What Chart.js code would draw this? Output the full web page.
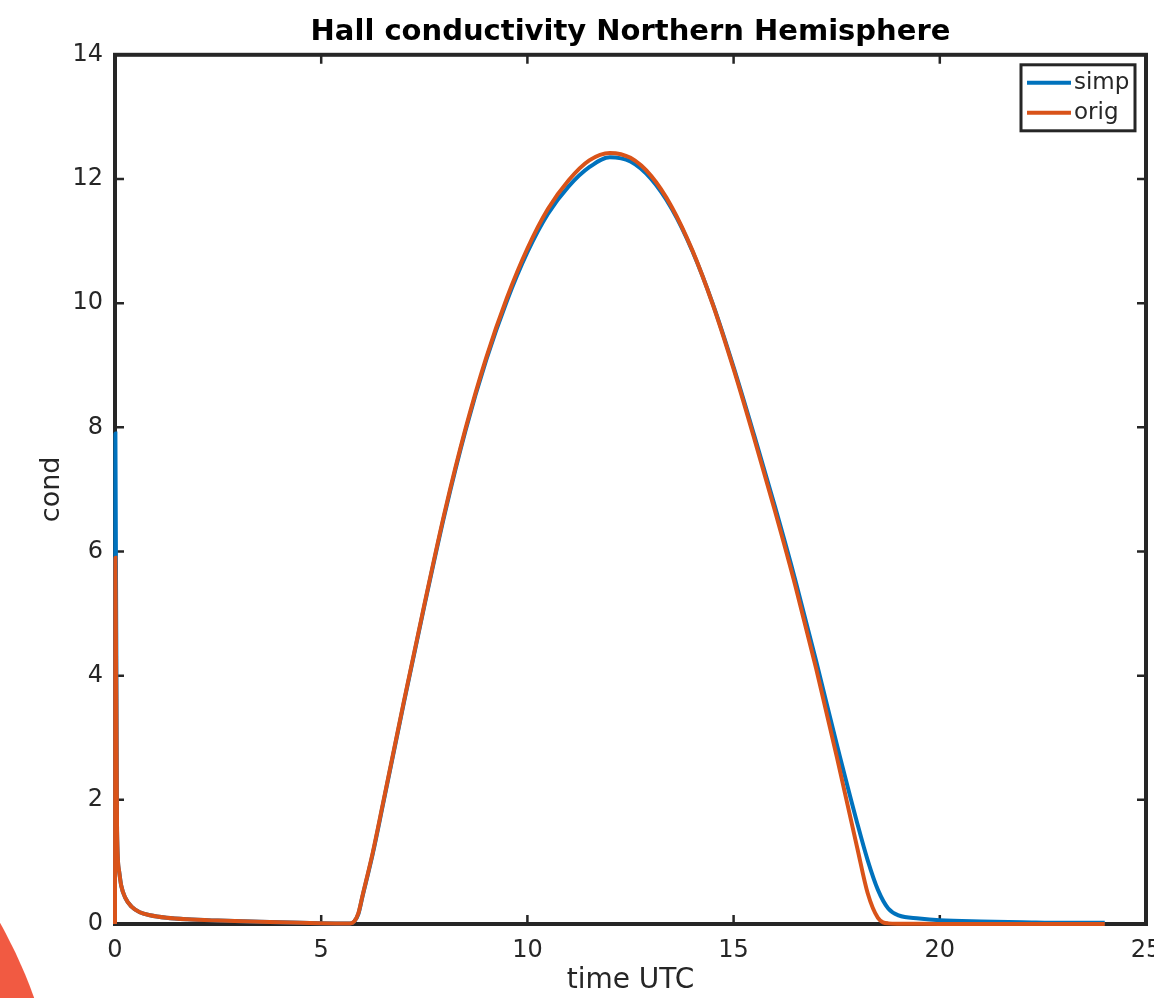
<!DOCTYPE html>
<html>
<head>
<meta charset="utf-8">
<title>Hall conductivity Northern Hemisphere</title>
<script src="https://cdn.jsdelivr.net/npm/chart.js@4.4.0/dist/chart.umd.min.js"></script>
<style>
  html, body { margin: 0; padding: 0; background: #fff; overflow: hidden; }
  #wrap { position: relative; width: 1154px; height: 998px; }
  /* slide decoration in the lower left corner */
  #blob { position: absolute; left: -860px; top: 690px; width: 920px; height: 920px; border-radius: 50%; background: #f15a42; }
  canvas { position: absolute; left: 0; top: 0; }
</style>
</head>
<body>
<div id="wrap">
  <div id="blob"></div>
  <canvas id="line-chart_hall" width="1154" height="998"></canvas>
</div>
<script>
// time UTC (hours)
const hours = [0, 0.01, 0.05, 0.1, 0.15, 0.25, 0.4, 0.6, 0.85, 1.25, 1.75, 2.5, 3.5, 4.5, 5.5, 5.7, 5.8, 5.9,
  6, 6.25, 6.5, 7, 7.5, 8, 8.5, 9, 9.5, 10, 10.5, 11, 11.5, 12, 12.5, 13, 13.5, 14, 14.5, 15, 15.5, 16,
  16.5, 17, 17.5, 18, 18.25, 18.5, 18.75, 19, 19.5, 20, 21, 22, 23, 24];

// simplified model
const simp = [0, 7.9, 1.5, 0.85, 0.62, 0.42, 0.28, 0.19, 0.14, 0.1, 0.075, 0.055, 0.035, 0.02, 0.01, 0.01, 0.04, 0.16,
  0.44, 1.13, 1.93, 3.55, 5.12, 6.62, 7.95, 9.08, 10.03, 10.82, 11.44, 11.88, 12.19, 12.35, 12.28, 12.0, 11.52, 10.84,
  9.98, 8.97, 7.87, 6.73, 5.53, 4.24, 2.9, 1.62, 1.03, 0.55, 0.25, 0.14, 0.09, 0.06, 0.04, 0.03, 0.02, 0.02];

// original model
const orig = [0, 5.9, 1.5, 0.85, 0.62, 0.42, 0.28, 0.19, 0.14, 0.1, 0.075, 0.055, 0.035, 0.02, 0.01, 0.01, 0.04, 0.17,
  0.45, 1.15, 1.95, 3.57, 5.14, 6.65, 7.98, 9.12, 10.08, 10.88, 11.52, 11.98, 12.3, 12.42, 12.34, 12.05, 11.55, 10.85,
  9.97, 8.94, 7.82, 6.66, 5.44, 4.12, 2.7, 1.22, 0.5, 0.1, 0.01, 0.005, 0.003, 0.002, 0.001, 0, 0, 0];

const xTicks = [0, 5, 10, 15, 20, 25];
const yTicks = [0, 2, 4, 6, 8, 10, 12, 14];

const FONT = 'DejaVu Sans';
const AXIS = '#262626';

const toPoints = (xs, ys) => xs.map((x, i) => ({x: x, y: ys[i]}));

// matlab style box with inward ticks on all four sides
const axesBox = {
  id: 'axesBox',
  beforeDatasetsDraw(chart) {
    const {ctx, chartArea: a, scales: {x, y}} = chart;
    ctx.save();
    ctx.strokeStyle = AXIS;
    ctx.lineWidth = 2.5;
    ctx.beginPath();
    xTicks.forEach(v => {
      const px = x.getPixelForValue(v);
      ctx.moveTo(px, a.bottom); ctx.lineTo(px, a.bottom - 9);
      ctx.moveTo(px, a.top); ctx.lineTo(px, a.top + 9);
    });
    yTicks.forEach(v => {
      const py = y.getPixelForValue(v);
      ctx.moveTo(a.left, py); ctx.lineTo(a.left + 9, py);
      ctx.moveTo(a.right, py); ctx.lineTo(a.right - 9, py);
    });
    ctx.stroke();
    ctx.lineWidth = 4;
    ctx.strokeRect(a.left, a.top, a.right - a.left, a.bottom - a.top);
    ctx.restore();
  }
};

// legend box in the upper right corner of the axes
const boxLegend = {
  id: 'boxLegend',
  afterDraw(chart) {
    const {ctx, chartArea: a} = chart;
    const w = 114, h = 66;
    const left = a.right - 125, top = a.top + 10;
    ctx.save();
    ctx.fillStyle = '#fff';
    ctx.fillRect(left, top, w, h);
    ctx.lineWidth = 3;
    ctx.strokeStyle = AXIS;
    ctx.strokeRect(left, top, w, h);
    chart.data.datasets.forEach((ds, i) => {
      const cy = top + 18 + i * 30;
      ctx.strokeStyle = ds.borderColor;
      ctx.lineWidth = 4;
      ctx.beginPath();
      ctx.moveTo(left + 6, cy);
      ctx.lineTo(left + 50, cy);
      ctx.stroke();
      ctx.fillStyle = AXIS;
      ctx.font = '23px "' + FONT + '"';
      ctx.textBaseline = 'middle';
      ctx.fillText(ds.label, left + 53, cy);
    });
    ctx.restore();
  }
};

const hall_chart = new Chart(document.getElementById('line-chart_hall'), {
  type: 'line',
  data: {
    datasets: [{
      label: 'simp',
      data: toPoints(hours, simp),
      borderColor: '#0072BD',
      borderWidth: 4,
      pointRadius: 0,
      cubicInterpolationMode: 'monotone',
      fill: false,
      clip: 4,
      order: 2
    }, {
      label: 'orig',
      data: toPoints(hours, orig),
      borderColor: '#D95319',
      borderWidth: 4,
      pointRadius: 0,
      cubicInterpolationMode: 'monotone',
      fill: false,
      clip: 4,
      order: 1
    }]
  },
  options: {
    responsive: false,
    animation: false,
    events: [],
    layout: { padding: { right: 8 } },
    plugins: {
      legend: { display: false },
      tooltip: { enabled: false },
      title: {
        display: true,
        fullSize: false,
        text: 'Hall conductivity Northern Hemisphere',
        color: '#000',
        font: { family: FONT, size: 29, weight: 'bold' },
        padding: { top: 15, bottom: 5 }
      }
    },
    scales: {
      x: {
        type: 'linear',
        min: 0,
        max: 25,
        afterBuildTicks: s => { s.ticks = xTicks.map(v => ({value: v})); },
        afterFit: s => { s.height = 74; s.paddingLeft = 0; s.paddingRight = 0; },
        grid: { display: false, drawTicks: false },
        border: { display: false },
        ticks: { color: AXIS, font: { family: FONT, size: 24 }, padding: 12, maxRotation: 0, autoSkip: false },
        title: { display: true, text: 'time UTC', color: AXIS, font: { family: FONT, size: 28 }, padding: { top: 0, bottom: 0 } }
      },
      y: {
        min: 0,
        max: 14,
        afterBuildTicks: s => { s.ticks = yTicks.map(v => ({value: v})); },
        afterFit: s => { s.width = 115; s.paddingTop = 0; s.paddingBottom = 0; },
        grid: { display: false, drawTicks: false },
        border: { display: false },
        ticks: { color: AXIS, font: { family: FONT, size: 24 }, padding: 12, autoSkip: false },
        title: { display: true, text: 'cond', color: AXIS, font: { family: FONT, size: 27 }, padding: { top: 36, bottom: 0 } }
      }
    }
  },
  plugins: [axesBox, boxLegend]
});
</script>
</body>
</html>
